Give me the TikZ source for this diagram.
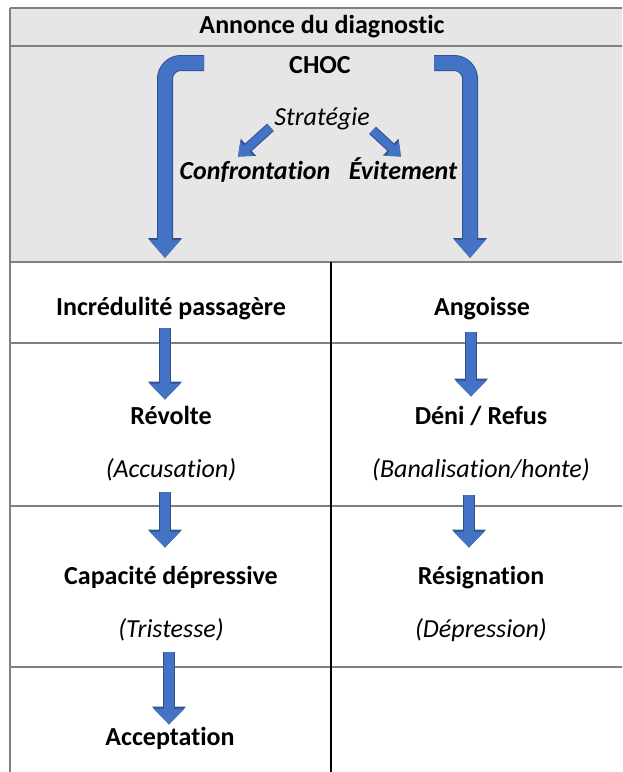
\documentclass[tikz,border=0pt]{standalone}
\usepackage{fontspec}
\setmainfont{Carlito}[Ligatures=NoCommon]
\usetikzlibrary{arrows.meta, positioning}
\definecolor{cellgray}{HTML}{E7E6E6}
\definecolor{arrowblue}{HTML}{4472C4}
\definecolor{arrowedge}{HTML}{2F528F}
\definecolor{rulegray}{HTML}{808080}

\begin{document}
\begin{tikzpicture}[
x=0.5pt, y=-0.5pt,
every node/.style={inner sep=0pt, text height=10pt, text depth=3pt},
titlenode/.style={font=\fontsize{13}{15}\selectfont\bfseries},
stagenode/.style={font=\fontsize{13}{15}\selectfont\bfseries},
notenode/.style={font=\fontsize{13}{15}\selectfont\itshape},
choicenode/.style={font=\fontsize{13}{15}\selectfont\bfseries\itshape},
bentarrow/.style={draw=arrowblue, line width=7pt, rounded corners=8pt, -{Triangle[width=15pt,length=9pt]},
  preaction={draw=arrowedge, line width=8pt, rounded corners=8pt, -{Triangle[width=16.5pt,length=10pt]}}},
stagearrow/.style={draw=arrowblue, line width=5pt, -{Triangle[width=15pt,length=8pt]},
  preaction={draw=arrowedge, line width=6pt, -{Triangle[width=16.5pt,length=9pt]}}},
smallarrow/.style={draw=arrowblue, line width=4pt, -{Triangle[width=9.5pt,length=6pt]},
  preaction={draw=arrowedge, line width=5pt, -{Triangle[width=11pt,length=7pt]}}},
gridline/.style={draw=rulegray, line width=0.7pt}
]
\clip (0,0) rectangle (622,772);

\fill[cellgray] (10,8) rectangle (634,262);
\draw[gridline] (10,8) -- (634,8);
\draw[gridline] (10,46) -- (634,46);
\draw[gridline] (10,262) -- (634,262);
\draw[gridline] (10,343) -- (634,343);
\draw[gridline] (10,506) -- (634,506);
\draw[gridline] (10,667) -- (634,667);
\draw[gridline] (10,8) -- (10,790);
\draw[black, line width=0.7pt] (331,262) -- (331,790);

\node[titlenode] (title) at (322,26) {Annonce du diagnostic};
\node[titlenode] (choc) at (320,66) {CHOC};
\node[notenode] (strategy) at (322,118) {Stratégie};
\node[choicenode] (confront) at (255,172) {Confrontation};
\node[choicenode] (avoid) at (403,172) {Évitement};

\node[stagenode] (stage_incredulity) at (171,308) {Incrédulité passagère};
\node[stagenode] (stage_revolt) at (171,417) {Révolte};
\node[notenode] (note_accusation) at (171,470) {(Accusation)};
\node[stagenode] (stage_capacity) at (171,577) {Capacité dépressive};
\node[notenode] (note_sadness) at (171,630) {(Tristesse)};
\node[stagenode] (stage_acceptance) at (170,738) {Acceptation};

\node[stagenode] (stage_anxiety) at (482,308) {Angoisse};
\node[stagenode] (stage_denial) at (481,417) {Déni / Refus};
\node[notenode] (note_shame) at (481,470) {(Banalisation/honte)};
\node[stagenode] (stage_resignation) at (481,577) {Résignation};
\node[notenode] (note_depression) at (481,630) {(Dépression)};

\coordinate (choc_left) at (204,63);
\coordinate (choc_right) at (434,63);
\coordinate (drop_left) at (165,258);
\coordinate (drop_right) at (470,258);

\draw[bentarrow] (choc_left) -| (drop_left);
\draw[bentarrow] (choc_right) -| (drop_right);

\draw[smallarrow] ([xshift=-1.75pt, yshift=2pt]strategy.south west) -- ([xshift=-8.5pt, yshift=1pt]confront.north);
\draw[smallarrow] ([xshift=1.25pt, yshift=0.5pt]strategy.south east) -- ([xshift=-1pt, yshift=1pt]avoid.north);

\draw[stagearrow] ([xshift=-3pt, yshift=-3.5pt]stage_incredulity.south) -- ([xshift=-3pt, yshift=2pt]stage_revolt.north);
\draw[stagearrow] ([xshift=-3pt, yshift=-4.5pt]note_accusation.south) -- ([xshift=-3pt, yshift=8pt]stage_capacity.north);
\draw[stagearrow] ([xshift=-1pt, yshift=-4.5pt]note_sadness.south) -- ([xshift=-0.5pt, yshift=0pt]stage_acceptance.north);
\draw[stagearrow] ([xshift=-5.5pt, yshift=-5.5pt]stage_anxiety.south) -- ([xshift=-5pt, yshift=3.5pt]stage_denial.north);
\draw[stagearrow] ([xshift=-6pt, yshift=-6pt]note_shame.south) -- ([xshift=-6pt, yshift=8pt]stage_resignation.north);

\end{tikzpicture}
\end{document}
